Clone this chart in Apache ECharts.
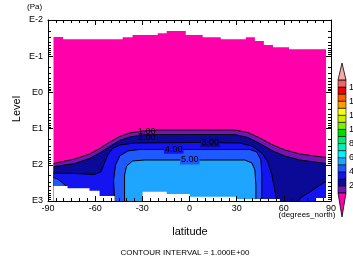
<!DOCTYPE html>
<html><head><meta charset="utf-8">
<script src="https://cdn.jsdelivr.net/npm/echarts@6/dist/echarts.min.js"></script>
<style>html,body{margin:0;padding:0;background:#fff}#c{width:353px;height:264px}</style>
</head><body><div id="c"></div>
<script>
// ---------------- data (latitude in degrees_north, level in Pa) ----------------
const xTicks = [-90, -60, -30, 0, 30, 60, 90];
const yTicks = [0.01, 0.1, 1, 10, 100, 1000];
const bottomP = 1000;

// top of valid data (stepped)
const topStepLat = [-86.5, -80.4, -42.5, -36.2, -20.2, -14.5, -2.4, 8.4, 19.9, 35.8, 41.6, 47.3, 53.1, 63.3, 86.8];
const topStepP   = [0.0295, 0.0341, 0.0300, 0.0259, 0.0233, 0.0201, 0.0259, 0.0300, 0.0341, 0.0300, 0.038, 0.049, 0.0568, 0.0645];

// contour lines (lat, Pa)
const contour1 = [[-86.5,92.1],[-73.1,69.2],[-63.6,50.3],[-57.2,35.5],[-50.8,23.5],[-44.4,16.5],[-38.1,13.2],[-29.8,11.7],[-19.0,10.9],[28.8,10.9],[37.1,12.8],[44.8,18.2],[52.4,27.5],[60.7,39.0],[70.2,50.3],[86.8,62.9]];
const contour2 = [[-86.5,113],[-73.1,92.1],[-63.6,67.0],[-57.2,47.2],[-50.8,31.2],[-44.4,21.3],[-38.1,17.1],[-29.8,15.0],[-19.0,14.6],[28.8,14.6],[37.1,17.6],[44.8,25.8],[52.4,40.3],[60.7,57.2],[70.2,73.7],[86.8,92.1]];
const contour3 = [[-86.5,169],[-73.1,174],[-60.4,185],[-56.5,158],[-54.6,101],[-52.1,53.6],[-48.9,35.5],[-44.4,28.4],[-34.9,25.0],[6.5,24.2],[32.0,25.0],[39.7,30.3],[46.0,47.2],[49.9,83.7],[52.4,192],[54.3,497],[55.6,1000]];
const contour4 = [[-47.6,1000],[-48.3,263],[-47.0,101],[-44.4,57.2],[-39.3,41.6],[-31.7,37.8],[38.4,37.8],[42.8,44.3],[45.4,73.7],[46.0,192],[46.0,1000]];
const contour5 = [[-41.3,1000],[-41.3,192],[-40.0,108],[-36.2,78.5],[-28.5,73.7],[35.2,73.7],[39.7,89.2],[41.6,139],[42.2,362],[42.2,1000]];
const cornerSW = [[-86.5,224],[-83.9,247],[-81.4,299],[-78.2,400]];   // 4-5 pocket
const cornerNE = [[68.3,1000],[71.5,776],[76.6,564],[81.7,397],[86.8,289]]; // 3-4 pocket

// missing data near the bottom (stepped)
const whiteLeftLat = [-86.5, -77.6, -63.6, -57.2, -47.6];
const whiteLeftP   = [385, 446, 519, 727];
const whiteMidLat  = [-29.8, -14.5, 0.2, 30.1, 57.5];
const whiteMidP    = [553, 641, 761, 881];
const whiteRightLat = [79.8, 86.8];
const whiteRightP   = [826];

const labelText = ['1.00', '2.00', '3.00', '4.00', '5.00'];
const labelLat  = [-27.2, -27.2, 13.2, -10.0, 0.2];
const labelP    = [12.0, 17.4, 24.5, 37.3, 73.7];

// colour scale
const levels = [1,2,3,4,5,6,7,8,9,10,11,12,13,14,15,16,17];
const levelColors = ['#7414b4','#0a0a96','#1414f0','#1e5aff','#1ea5ff','#00f0ff','#00f0b4','#00e678','#00dc00','#78f000','#c8f000','#ffff00','#ffa000','#ff5a00','#f00000','#f06464'];
const belowColor = '#ff00aa';
const aboveColor = '#f8a8a8';
const barLabels = [2,4,6,8,10,12,14,16];

// ---------------- build ----------------
function steps(edges, ps, base) {
  const pts = [];
  for (let i = 0; i < ps.length; i++) { pts.push([edges[i], ps[i]]); pts.push([edges[i+1], ps[i]]); }
  pts.push([edges[edges.length-1], base]); pts.push([edges[0], base]);
  return pts;
}
function closeDown(pts) {
  return pts.concat([[pts[pts.length-1][0], bottomP], [pts[0][0], bottomP]]);
}
function poly(points, color, z) {
  return { type:'custom', coordinateSystem:'cartesian2d', xAxisIndex:0, yAxisIndex:0, z:z, silent:true, clip:true,
    data:[[0,1]],
    renderItem:(p, api) => ({ type:'polygon', shape:{ points: points.map(q => api.coord(q)) }, style:{ fill: color, stroke: null } }) };
}
function line(points, z) {
  return { type:'custom', coordinateSystem:'cartesian2d', xAxisIndex:0, yAxisIndex:0, z:z, silent:true, clip:true,
    data:[[0,1]],
    renderItem:(p, api) => ({ type:'polyline', shape:{ points: points.map(q => api.coord(q)) }, style:{ fill: null, stroke:'#000', lineWidth:1 } }) };
}
const minorY = [];
for (let e = -2; e < 3; e++) for (let k = 2; k <= 9; k++) minorY.push(+(k * Math.pow(10, e)).toPrecision(3));

const labelBg = [null, null, levelColors[1], levelColors[2], levelColors[3]];

const series = [
  poly(steps(topStepLat, topStepP, bottomP), belowColor, 1),
  poly(closeDown(contour1), levelColors[0], 2),
  poly(closeDown(contour2), levelColors[1], 3),
  poly(closeDown(contour3), levelColors[2], 4),
  poly(closeDown(contour4), levelColors[3], 5),
  poly(closeDown(contour5), levelColors[4], 6),
  poly(closeDown(cornerSW), levelColors[3], 6),
  poly(closeDown(cornerNE), levelColors[2], 6),
  line(contour1, 7), line(contour2, 7), line(contour3, 7), line(contour4, 7), line(contour5, 7),
  line(cornerSW, 7), line(cornerNE, 7),
  poly(steps(whiteLeftLat, whiteLeftP, bottomP), '#fff', 8),
  poly(steps(whiteMidLat, whiteMidP, bottomP), '#fff', 8),
  poly(steps(whiteRightLat, whiteRightP, bottomP), '#fff', 8),
  { type:'custom', coordinateSystem:'cartesian2d', xAxisIndex:0, yAxisIndex:0, z:9, silent:true,
    data: labelText.map((t,i) => [labelLat[i], labelP[i], i]),
    renderItem:(p, api) => {
      const i = api.value(2); const c = api.coord([api.value(0), api.value(1)]);
      return { type:'text', x:c[0], y:c[1], style:{ text: labelText[i], align:'center', verticalAlign:'middle',
        fill:'#000', font:'9px "Liberation Sans", Arial, sans-serif', backgroundColor: labelBg[i] || 'transparent', padding:[0,1] } };
    } },
  // colour bar
  { type:'custom', coordinateSystem:'cartesian2d', xAxisIndex:2, yAxisIndex:4, z:2, silent:true,
    data: levelColors.map((c,i) => [0, levels[i], levels[i+1], i]),
    renderItem:(p, api) => {
      const a = api.coord([0, api.value(2)]), b = api.coord([1, api.value(1)]);
      return { type:'rect', shape:{ x:a[0], y:a[1], width:b[0]-a[0], height:b[1]-a[1] },
        style:{ fill: levelColors[api.value(3)], stroke:'#000', lineWidth:0.6 } };
    } },
  { type:'custom', coordinateSystem:'cartesian2d', xAxisIndex:2, yAxisIndex:4, z:2, silent:true,
    data:[[0, levels[levels.length-1], 19.4, 0],[0, levels[0], -2.4, 1]],
    renderItem:(p, api) => {
      const base = api.value(1), tip = api.value(2);
      return { type:'polygon', shape:{ points:[api.coord([0,base]), api.coord([1,base]), api.coord([0.5,tip])] },
        style:{ fill: api.value(3) === 0 ? aboveColor : belowColor, stroke:'#000', lineWidth:0.8 } };
    } }
];

const font = '"Liberation Sans", Arial, sans-serif';
const axCommon = { z:20, splitLine:{show:false}, minorSplitLine:{show:false} };
const option = {
  animation:false,
  backgroundColor:'#fff',
  grid:[ { left:48, top:20, width:283, height:181, outerBoundsMode:'none', containLabel:false },
         { left:338, top:63, width:8, height:154, outerBoundsMode:'none', containLabel:false } ],
  xAxis:[
    Object.assign({ type:'value', gridIndex:0, position:'bottom', min:-90, max:90, interval:30,
      axisLine:{ show:true, onZero:false, lineStyle:{ color:'#000', width:1 } },
      axisTick:{ inside:true, length:5, lineStyle:{ color:'#000' } },
      minorTick:{ show:true, splitNumber:6, length:3, lineStyle:{ color:'#000' } },
      axisLabel:{ color:'#000', fontSize:9, fontFamily:font, margin:3 } }, axCommon),
    Object.assign({ type:'value', gridIndex:0, position:'top', min:-90, max:90, interval:30,
      axisLine:{ show:true, onZero:false, lineStyle:{ color:'#000', width:1 } },
      axisTick:{ inside:true, length:5, lineStyle:{ color:'#000' } },
      minorTick:{ show:true, splitNumber:6, length:3, lineStyle:{ color:'#000' } },
      axisLabel:{ show:false } }, axCommon),
    { type:'value', gridIndex:1, min:0, max:1, show:false }
  ],
  yAxis:[
    Object.assign({ type:'log', logBase:10, gridIndex:0, position:'left', inverse:true, min:0.01, max:1000,
      axisLine:{ show:true, onZero:false, lineStyle:{ color:'#000', width:1 } },
      axisTick:{ inside:true, length:5, customValues:yTicks, lineStyle:{ color:'#000' } },
      axisLabel:{ color:'#000', fontSize:9, fontFamily:font, margin:5, customValues:yTicks,
        formatter: v => 'E' + Math.round(Math.log10(v)) } }, axCommon),
    Object.assign({ type:'log', logBase:10, gridIndex:0, position:'left', inverse:true, min:0.01, max:1000,
      axisLine:{ show:false, onZero:false },
      axisTick:{ inside:true, length:3, customValues:minorY, lineStyle:{ color:'#000' } },
      axisLabel:{ show:false } }, axCommon),
    Object.assign({ type:'log', logBase:10, gridIndex:0, position:'right', inverse:true, min:0.01, max:1000,
      axisLine:{ show:true, onZero:false, lineStyle:{ color:'#000', width:1 } },
      axisTick:{ inside:true, length:5, customValues:yTicks, lineStyle:{ color:'#000' } },
      axisLabel:{ show:false } }, axCommon),
    Object.assign({ type:'log', logBase:10, gridIndex:0, position:'right', inverse:true, min:0.01, max:1000,
      axisLine:{ show:false, onZero:false },
      axisTick:{ inside:true, length:3, customValues:minorY, lineStyle:{ color:'#000' } },
      axisLabel:{ show:false } }, axCommon),
    { type:'value', gridIndex:1, position:'right', min:-2.4, max:19.4,
      axisLine:{ show:false, onZero:false }, axisTick:{ show:false }, splitLine:{ show:false },
      axisLabel:{ color:'#000', fontSize:9, fontFamily:font, margin:3, customValues:barLabels } }
  ],
  graphic:[
    { type:'text', x:27, y:7, style:{ text:'(Pa)', fill:'#000', font:'8px ' + font, verticalAlign:'middle' } },
    { type:'text', x:17, y:109, rotation:Math.PI/2, style:{ text:'Level', fill:'#000', font:'11px ' + font, align:'center', verticalAlign:'middle' } },
    { type:'text', x:190, y:232, style:{ text:'latitude', fill:'#000', font:'11px ' + font, align:'center', verticalAlign:'middle' } },
    { type:'text', x:307, y:215, style:{ text:'(degrees_north)', fill:'#000', font:'8px ' + font, align:'center', verticalAlign:'middle' } },
    { type:'text', x:185, y:253, style:{ text:'CONTOUR INTERVAL = 1.000E+00', fill:'#000', font:'8px ' + font, align:'center', verticalAlign:'middle' } }
  ],
  series: series
};
const chart = echarts.init(document.getElementById('c'), null, { renderer:'canvas' });
chart.setOption(option);
</script>
</body></html>
